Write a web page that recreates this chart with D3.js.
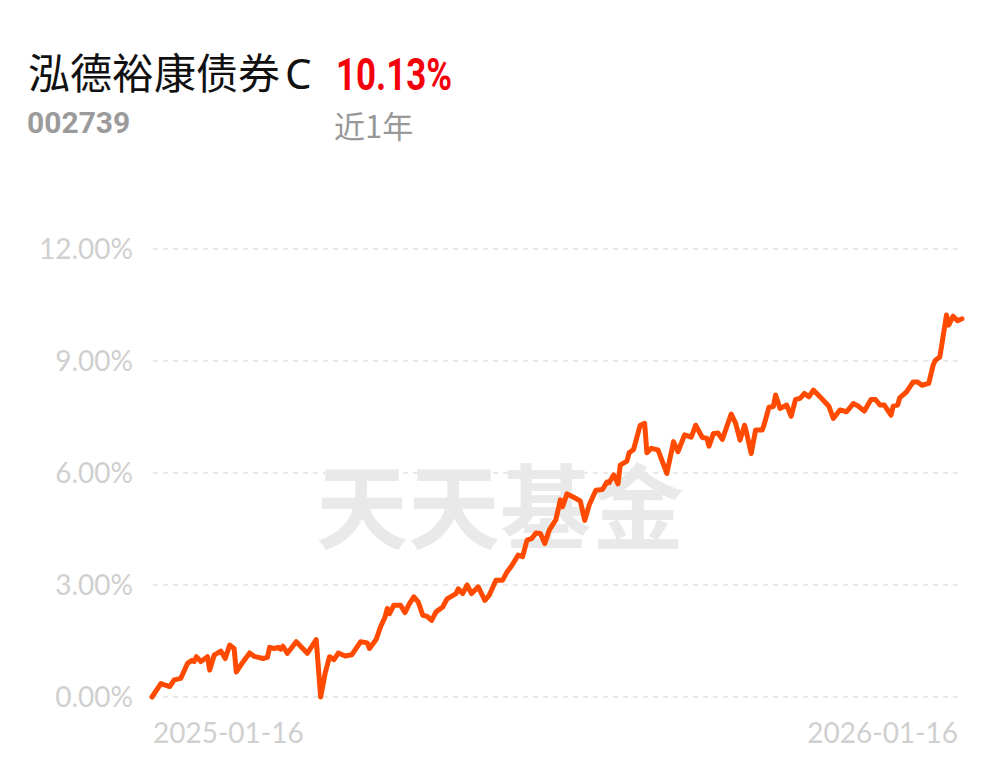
<!DOCTYPE html>
<html>
<head>
<meta charset="utf-8">
<script src="https://cdn.jsdelivr.net/npm/d3@7"></script>
<style>
  body { margin: 0; background: #fff; }
</style>
</head>
<body>
<div id="chart"></div>
<script>
// fund info
var fundName = "泓德裕康债券";
var fundClass = "C";
var fundCode = "002739";
var periodReturn = "10.13%";
var periodLabel = "近1年";

// days since 2025-01-16 and cumulative return (%)
var days = [0, 4, 8, 10, 13, 16, 18, 19, 20, 22, 25, 26, 28, 31, 33, 35, 37, 38, 41, 44,
  46, 50, 52, 53, 55, 57, 58, 59, 61, 65, 70, 74, 76, 78, 80, 82, 84, 87, 90, 94,
  97, 98, 101, 103, 105, 106, 107, 109, 112, 114, 116, 118, 120, 122, 124, 126, 128, 131, 133, 137,
  138, 140, 142, 144, 147, 150, 152, 155, 158, 160, 162, 165, 167, 169, 171, 173, 175, 177, 179, 182,
  184, 185, 187, 190, 193, 195, 197, 200, 203, 205, 206, 208, 210, 211, 214, 215, 217, 220, 222, 223,
  225, 228, 232, 235, 237, 240, 243, 245, 248, 250, 251, 253, 255, 257, 261, 263, 265, 267, 268, 270,
  272, 275, 276, 278, 280, 281, 283, 286, 288, 290, 292, 294, 296, 298, 301, 305, 307, 310, 313, 316,
  318, 321, 324, 326, 328, 330, 333, 334, 336, 337, 340, 343, 345, 347, 350, 352, 353, 355, 356, 358,
  359, 361, 363, 365];
var returns = [0.00, 0.36, 0.28, 0.46, 0.50, 0.90, 0.98, 0.95, 1.08, 0.95, 1.08, 0.72, 1.12, 1.23, 1.03, 1.39, 1.30, 0.67, 0.94, 1.18,
  1.09, 1.03, 1.06, 1.33, 1.30, 1.33, 1.28, 1.36, 1.17, 1.48, 1.17, 1.54, 0.00, 0.63, 1.08, 1.00, 1.18, 1.10, 1.13, 1.48,
  1.45, 1.30, 1.54, 1.88, 2.14, 2.37, 2.23, 2.46, 2.46, 2.26, 2.50, 2.68, 2.54, 2.19, 2.16, 2.05, 2.28, 2.41, 2.63, 2.77,
  2.90, 2.77, 3.00, 2.77, 2.95, 2.59, 2.73, 3.13, 3.13, 3.35, 3.51, 3.80, 3.76, 4.20, 4.24, 4.39, 4.38, 4.11, 4.47, 4.75,
  5.28, 5.10, 5.44, 5.35, 5.25, 4.73, 5.14, 5.54, 5.56, 5.76, 5.74, 5.95, 5.71, 6.21, 6.32, 6.54, 6.63, 7.28, 7.33, 6.54,
  6.66, 6.62, 5.99, 6.84, 6.57, 7.02, 6.96, 7.28, 6.95, 6.93, 6.72, 7.06, 7.07, 6.90, 7.58, 7.33, 6.88, 7.28, 7.06, 6.52,
  7.15, 7.15, 7.33, 7.76, 7.78, 8.09, 7.73, 7.82, 7.52, 7.97, 8.00, 8.13, 8.04, 8.22, 8.04, 7.79, 7.46, 7.69, 7.64, 7.86,
  7.80, 7.66, 7.97, 7.97, 7.82, 7.82, 7.55, 7.79, 7.82, 8.02, 8.17, 8.44, 8.44, 8.35, 8.40, 8.89, 9.02, 9.11, 9.47, 10.23,
  9.96, 10.20, 10.08, 10.13];

var yTicks = [0, 3, 6, 9, 12];
var xLabels = ["2025-01-16", "2026-01-16"];

var W = 1001, H = 766;
var margin = {top: 249, right: 39, bottom: 69, left: 152};

var svg = d3.select("#chart")
  .append("svg")
    .attr("width", W)
    .attr("height", H);

// header
var title = svg.append("text")
  .attr("x", 28)
  .attr("y", 89)
  .style("font-family", "'Noto Sans CJK SC', 'Noto Sans'")
  .style("font-size", "42px")
  .attr("fill", "#111")
  .text(fundName);
title.append("tspan")
  .attr("dx", 5)
  .style("font-family", "'Noto Sans', 'Noto Sans CJK SC'")
  .text(fundClass);

svg.append("text")
  .attr("x", 336)
  .attr("y", 90)
  .attr("textLength", 116)
  .attr("lengthAdjust", "spacingAndGlyphs")
  .style("font-family", "Roboto")
  .style("font-weight", "bold")
  .style("font-size", "45px")
  .attr("fill", "#f5000a")
  .text(periodReturn);

svg.append("text")
  .attr("x", 27)
  .attr("y", 133)
  .style("font-family", "Roboto")
  .style("font-weight", "bold")
  .style("font-size", "30px")
  .attr("fill", "#9b9b9b")
  .text(fundCode);

svg.append("text")
  .attr("x", 334)
  .attr("y", 138)
  .style("font-family", "'Noto Sans CJK SC'")
  .style("font-size", "31px")
  .attr("fill", "#999")
  .text(periodLabel);

// scales
var x = d3.scaleLinear()
  .domain([0, 365])
  .range([margin.left, W - margin.right]);
var y = d3.scaleLinear()
  .domain([0, 12])
  .range([H - margin.bottom, margin.top]);

// grid
svg.append("g")
  .selectAll("line")
  .data(yTicks)
  .enter()
  .append("line")
    .attr("x1", 153)
    .attr("x2", 960)
    .attr("y1", function(d) { return y(d); })
    .attr("y2", function(d) { return y(d); })
    .attr("stroke", "#e2e2e2")
    .attr("stroke-width", 1.5)
    .attr("stroke-dasharray", "5,5");

svg.append("g")
  .selectAll("text")
  .data(yTicks)
  .enter()
  .append("text")
    .attr("x", 133)
    .attr("y", function(d) { return y(d); })
    .attr("dy", "0.35em")
    .attr("text-anchor", "end")
    .style("font-family", "Lato")
    .style("font-size", "28px")
    .attr("fill", "#d0d0d0")
    .text(function(d) { return d3.format(".2f")(d) + "%"; });

// watermark
svg.append("text")
  .attr("x", 500)
  .attr("y", 542)
  .attr("text-anchor", "middle")
  .style("font-family", "'Noto Sans CJK SC'")
  .style("font-weight", "bold")
  .style("font-size", "92px")
  .attr("fill", "#e9e9e9")
  .text("天天基金");

// x labels
svg.append("text")
  .attr("x", 153)
  .attr("y", 743)
  .style("font-family", "Lato")
  .style("font-size", "28px")
  .attr("fill", "#d0d0d0")
  .text(xLabels[0]);
svg.append("text")
  .attr("x", 958)
  .attr("y", 743)
  .attr("text-anchor", "end")
  .style("font-family", "Lato")
  .style("font-size", "28px")
  .attr("fill", "#d0d0d0")
  .text(xLabels[1]);

// line
var pts = days.map(function(d, i) { return [d, returns[i]]; });
svg.append("path")
  .datum(pts)
  .attr("fill", "none")
  .attr("stroke", "#ff4a00")
  .attr("stroke-width", 5)
  .attr("stroke-linejoin", "round")
  .attr("stroke-linecap", "round")
  .attr("d", d3.line()
    .x(function(d) { return x(d[0]); })
    .y(function(d) { return y(d[1]); }));
</script>
</body>
</html>
